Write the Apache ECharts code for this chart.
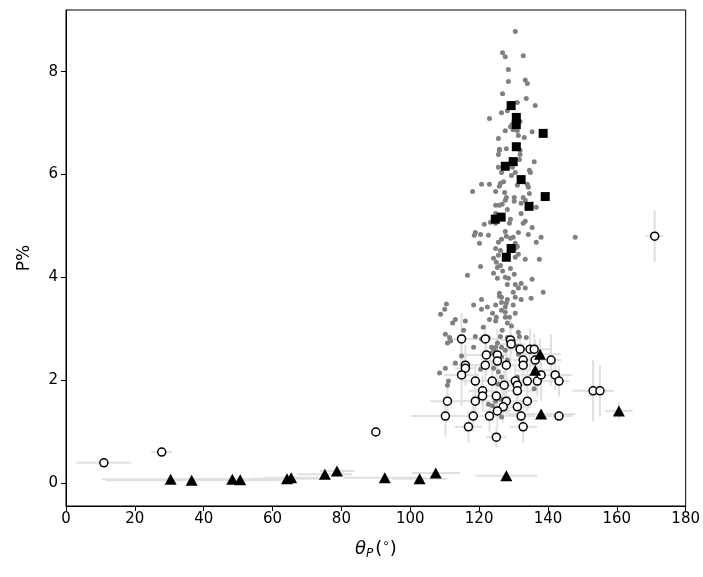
<!DOCTYPE html>
<html>
<head>
<meta charset="utf-8">
<script src="https://cdn.jsdelivr.net/npm/echarts@6/dist/echarts.min.js"></script>
<style>
  html, body { margin: 0; padding: 0; background: #fff; }
  #chart { width: 703px; height: 577px; }
</style>
</head>
<body>
<div id="chart"></div>
<script>
// grey background points [theta, P]
const greyDots = [
  [130.5,8.78],[126.8,8.37],[127.6,8.29],[132.8,8.31],[128.5,8.04],[128.5,7.81],[133.4,7.84],[134.0,7.77],
  [126.8,7.57],[133.7,7.48],[131.1,7.40],[128.2,7.24],[126.5,7.20],[136.3,7.34],[123.0,7.09],[131.9,7.03],
  [129.1,6.93],[129.6,6.97],[127.6,6.85],[129.9,6.87],[131.1,6.85],[135.4,6.83],[131.4,6.76],[133.1,6.72],
  [125.6,6.70],[125.9,6.49],[127.9,6.50],[125.9,6.47],[125.6,6.39],[131.9,6.47],[131.9,6.39],[136.0,6.25],
  [131.7,6.29],[125.6,6.14],[126.5,6.04],[129.7,6.14],[130.5,6.04],[129.4,5.98],[134.6,6.08],[134.9,6.04],
  [127.1,5.86],[126.2,5.83],[120.7,5.81],[123.0,5.81],[125.9,5.77],[131.1,5.79],[134.0,5.81],[134.3,5.75],
  [118.1,5.67],[124.8,5.67],[127.4,5.65],[134.6,5.63],[127.9,5.55],[130.2,5.55],[127.6,5.50],[130.2,5.48],
  [132.8,5.55],[133.4,5.50],[124.8,5.40],[125.9,5.40],[128.2,5.32],[126.7,5.42],[132.2,5.44],[136.6,5.36],
  [124.8,5.24],[132.2,5.24],[129.1,5.13],[128.8,5.05],[133.4,5.09],[132.8,5.05],[123.3,5.07],[121.5,5.03],
  [124.8,5.05],[135.4,4.97],[118.9,4.87],[118.6,4.82],[120.4,4.83],[122.7,4.82],[127.6,4.89],[131.4,4.87],
  [134.3,4.83],[138.0,4.78],[147.9,4.78],[127.9,4.80],[129.1,4.76],[126.5,4.74],[125.6,4.68],[129.9,4.78],
  [130.5,4.66],[131.1,4.60],[136.6,4.68],[120.1,4.66],[124.8,4.56],[130.5,4.56],[126.2,4.52],[131.4,4.45],
  [125.6,4.43],[124.2,4.37],[130.5,4.39],[133.4,4.35],[137.5,4.35],[125.0,4.29],[126.2,4.23],[120.4,4.21],
  [129.1,4.17],[125.3,4.19],[124.2,4.08],[126.8,4.12],[130.2,4.06],[116.6,4.04],[127.6,4.00],[128.5,3.98],
  [125.3,3.98],[128.2,3.86],[130.5,3.86],[132.2,3.88],[135.4,3.96],[131.4,3.79],[133.4,3.79],[129.9,3.71],
  [138.6,3.71],[125.9,3.69],[125.9,3.63],[126.5,3.61],[128.2,3.57],[130.5,3.61],[132.2,3.57],[126.5,3.51],
  [127.9,3.50],[120.7,3.57],[118.4,3.46],[124.8,3.46],[127.6,3.42],[129.9,3.46],[135.1,3.59],[110.5,3.48],
  [110.0,3.38],[108.8,3.28],[120.7,3.38],[122.4,3.42],[126.5,3.36],[127.6,3.32],[130.5,3.30],[123.9,3.30],
  [125.0,3.22],[127.6,3.22],[128.8,3.22],[113.1,3.18],[112.3,3.11],[116.0,3.15],[123.0,3.18],[124.8,3.15],
  [128.2,3.11],[129.4,3.05],[121.2,3.03],[126.7,2.97],[131.4,2.93],[110.2,2.89],[111.4,2.83],[126.2,2.85],
  [128.2,2.83],[131.7,2.85],[133.7,2.83],[111.7,2.76],[110.8,2.72],[118.9,2.85],[125.3,2.72],[129.9,2.76],
  [126.5,2.64],[123.6,2.64],[118.4,2.64],[127.6,2.58],[131.1,2.66],[123.6,2.52],[124.2,2.60],[126.5,2.45],
  [131.4,2.50],[114.9,2.47],[128.2,2.39],[113.1,2.33],[110.2,2.23],[108.5,2.14],[124.2,2.23],[125.6,2.16],
  [120.4,2.21],[126.5,2.06],[111.1,1.98],[131.1,2.06],[125.6,1.92],[110.8,1.90],[136.0,1.83],[122.7,1.53],
  [123.9,1.50],[124.8,1.59],[126.2,1.63],[126.5,1.28],[125.9,1.42],[127.6,1.90],[131.7,1.77],[115.5,2.97],
  [120.7,2.80],[122.7,2.82],[124.8,2.64]
];

// open circles [theta, P, dTheta, dP]
const openCircles = [
  [11.0,0.39,8,0],[27.8,0.60,3,0],[90.0,0.99,0,0],[171.0,4.80,2.5,0.5],
  [114.9,2.80,4,0.5],[121.8,2.80,5,0.3],[129.1,2.78,3,0.4],[129.3,2.70,4,0.2],
  [131.9,2.60,6,0.3],[134.8,2.60,4,0.4],[136.0,2.60,5,0.3],[140.9,2.39,3,0.5],
  [136.3,2.39,5,0.4],[122.1,2.49,6,0.4],[125.3,2.49,3,0.5],[125.3,2.37,4,0.3],
  [116.0,2.29,4,0.4],[116.0,2.23,3,0.3],[114.9,2.10,5,0.6],[121.8,2.29,3,0.3],
  [127.9,2.29,4,0.5],[132.8,2.39,3,0.3],[132.8,2.29,4,0.3],[142.1,2.10,5,0.3],
  [143.2,1.98,3,0.3],[118.9,1.98,4,0.3],[123.8,1.98,5,0.4],[127.3,1.90,3,0.3],
  [130.5,1.98,4,0.3],[131.1,1.90,3,0.2],[134.0,1.98,5,0.3],[136.9,1.98,4,0.3],
  [138.0,2.10,6,0.5],[121.0,1.79,4,0.3],[121.0,1.69,3,0.3],[125.0,1.69,4,0.3],
  [131.1,1.79,5,0.3],[110.8,1.59,5,0.4],[118.9,1.59,4,0.3],[127.9,1.59,4,0.3],
  [127.0,1.48,3,0.3],[131.1,1.48,4,0.3],[134.0,1.59,3,0.2],[125.3,1.40,4,0.3],
  [110.2,1.30,10,0.4],[118.3,1.30,6,0.3],[123.0,1.30,5,0.3],[132.2,1.30,4,0.3],
  [143.2,1.30,4,0],[116.9,1.09,4,0.3],[132.8,1.09,4,0.3],[125.0,0.89,3,0.2],
  [153.1,1.79,6,0.6],[155.1,1.79,4,0.5]
];

// filled triangles [theta, P, dTheta, dP]
const triangles = [
  [30.4,0.07,20,0],[36.5,0.05,25,0],[48.3,0.07,15,0],[50.6,0.06,15,0],
  [64.2,0.08,10,0],[65.4,0.10,8,0],[75.2,0.17,8,0],[78.7,0.23,5,0],
  [92.6,0.10,12,0],[102.7,0.08,8,0],[107.4,0.19,7,0],[127.9,0.14,9,0],
  [160.6,1.40,4,0.17],[138.0,1.34,10,0],[137.7,2.50,6,0.3],[136.3,2.19,6,0.3]
];

// filled squares [theta, P]
const squares = [
  [129.3,7.34],[130.8,7.11],[130.8,6.97],[138.6,6.80],[130.8,6.54],[129.9,6.25],[127.6,6.16],
  [132.2,5.90],[139.2,5.57],[134.5,5.38],[126.4,5.17],[124.7,5.13],[129.3,4.56],[127.9,4.39]
];

const xTicks = [0, 20, 40, 60, 80, 100, 120, 140, 160, 180];

function errorBars(params, api) {
  const x = api.value(0), y = api.value(1), dx = api.value(2), dy = api.value(3);
  const style = { stroke: '#e0e0e0', lineWidth: 2 };
  const kids = [];
  if (dx > 0) {
    const a = api.coord([x - dx, y]), b = api.coord([x + dx, y]);
    kids.push({ type: 'line', shape: { x1: a[0], y1: a[1], x2: b[0], y2: b[1] }, style: style });
  }
  if (dy > 0) {
    const a = api.coord([x, y - dy]), b = api.coord([x, y + dy]);
    kids.push({ type: 'line', shape: { x1: a[0], y1: a[1], x2: b[0], y2: b[1] }, style: style });
  }
  return { type: 'group', children: kids };
}

const chart = echarts.init(document.getElementById('chart'));
chart.setOption({
  animation: false,
  grid: { left: 66, right: 15, top: 10, bottom: 71, show: true, borderColor: '#000', borderWidth: 1 },
  xAxis: {
    type: 'value', min: 0, max: 180, interval: 20,
    name: '{i|θ}{s|P}{n|(}{d|∘}{n|)}', nameLocation: 'middle', nameGap: 32,
    nameTextStyle: {
      rich: {
        i: { fontFamily: 'DejaVu Sans', fontStyle: 'italic', fontSize: 18, color: '#000' },
        s: { fontFamily: 'DejaVu Sans', fontStyle: 'italic', fontSize: 12, color: '#000', verticalAlign: 'bottom', padding: [10, 2, 0, 0] },
        n: { fontFamily: 'DejaVu Sans', fontSize: 18, color: '#000' },
        d: { fontFamily: 'DejaVu Sans', fontSize: 12, color: '#000', verticalAlign: 'top', padding: [0, 0, 8, 0] }
      }
    },
    axisLine: { onZero: false, lineStyle: { color: '#000' } },
    axisTick: { inside: false, length: 5, lineStyle: { color: '#000' } },
    axisLabel: { color: '#000', fontSize: 15, fontFamily: 'DejaVu Sans', margin: 6,
      formatter: v => xTicks.indexOf(v) >= 0 ? String(v) : '' },
    splitLine: { show: false }
  },
  yAxis: {
    type: 'value', min: -0.45, max: 9.2, splitNumber: 5,
    name: 'P%', nameLocation: 'middle', nameGap: 33, nameRotate: 90,
    nameTextStyle: { fontFamily: 'DejaVu Sans', fontSize: 17, color: '#000' },
    axisLine: { onZero: false, lineStyle: { color: '#000' } },
    axisTick: { inside: false, length: 5, lineStyle: { color: '#000' } },
    axisLabel: { color: '#000', fontSize: 15, fontFamily: 'DejaVu Sans', margin: 8,
      showMinLabel: false, showMaxLabel: false },
    splitLine: { show: false }
  },
  series: [
    { type: 'custom', name: 'circleErr', renderItem: errorBars, data: openCircles, encode: { x: 0, y: 1 }, clip: true, z: 1 },
    { type: 'custom', name: 'triErr', renderItem: errorBars, data: triangles, encode: { x: 0, y: 1 }, clip: true, z: 1 },
    { type: 'scatter', name: 'grey', data: greyDots, symbol: 'circle', symbolSize: 5,
      itemStyle: { color: '#808080', opacity: 1 }, z: 2 },
    { type: 'scatter', name: 'circles', data: openCircles, symbol: 'circle', symbolSize: 8,
      itemStyle: { color: '#fff', borderColor: '#000', borderWidth: 1.5, opacity: 1 }, z: 3 },
    { type: 'scatter', name: 'triangles', data: triangles, symbol: 'triangle', symbolSize: [12, 11],
      itemStyle: { color: '#000', opacity: 1 }, z: 4 },
    { type: 'scatter', name: 'squares', data: squares, symbol: 'rect', symbolSize: 9,
      itemStyle: { color: '#000', opacity: 1 }, z: 4 }
  ]
});
</script>
</body>
</html>
